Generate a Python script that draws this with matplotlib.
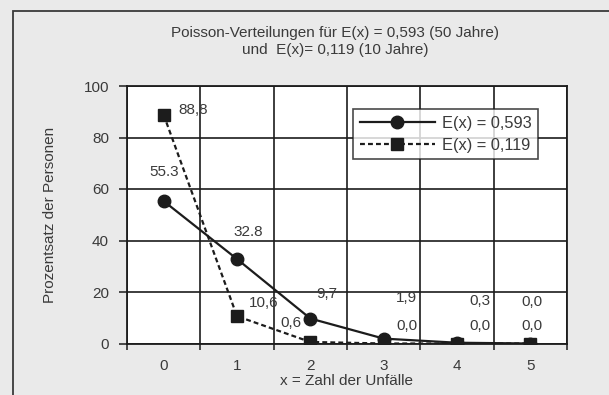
import matplotlib
matplotlib.use("Agg")
import matplotlib.pyplot as plt
from matplotlib.patches import Rectangle
from matplotlib.lines import Line2D

# Data: percentage of persons by number of accidents
accidents = [0, 1, 2, 3, 4, 5]
pct_593 = [55.3, 32.8, 9.7, 1.9, 0.3, 0.0]
pct_119 = [88.8, 10.6, 0.6, 0.0, 0.0, 0.0]
series_names = ["E(x) = 0,593", "E(x) = 0,119"]
y_ticks = [0, 20, 40, 60, 80, 100]

# decimal separator used in each data label
sep_593 = [".", ".", ",", ",", ",", ","]
sep_119 = [",", ",", ",", ",", ",", ","]

# label offsets (pixels) relative to the marker
off_593 = [(0, 29), (11, 27), (16, 25), (23, 41), (23, 42), (2, 42)]
off_119 = [(30, 5), (27, 13), (-19, 19), (23, 17), (23, 17), (2, 17)]

W, H = 609, 395
plt.rcParams["font.family"] = ["Liberation Sans", "DejaVu Sans"]
FS = 11
TXT = "#3a3a3a"
INK = "#1c1c1c"

fig = plt.figure(figsize=(W / 100, H / 100), dpi=100)
fig.patch.set_facecolor("#eaeaea")

# outer chart frame
fig.add_artist(Rectangle((13 / W, -0.1), 1.2, 1 - 11 / H + 0.1,
                         transform=fig.transFigure, fill=False,
                         edgecolor="#3a3a3a", linewidth=1.3))

left, right, top, bottom = 127, 567, 86, 343.5
ax = fig.add_axes([left / W, 1 - bottom / H, (right - left) / W, (bottom - top) / H])
ax.set_facecolor("white")
ax.set_xlim(-0.5, 5.5)
ax.set_ylim(0, 100)

ax.set_xticks(accidents)
ax.set_xticklabels([str(a) for a in accidents], fontsize=FS, color=TXT)
ax.set_xticks([a - 0.5 for a in accidents] + [5.5], minor=True)
ax.tick_params(axis="x", which="major", length=0, pad=11)
ax.tick_params(axis="x", which="minor", length=4, width=1.1, color=INK, direction="out")
ax.set_yticks(y_ticks)
ax.set_yticklabels([str(t) for t in y_ticks], fontsize=FS, color=TXT)
ax.tick_params(axis="y", length=6, width=1.1, color=INK, pad=7)

ax.grid(True, axis="y", which="major", color=INK, linewidth=1.2)
ax.grid(True, axis="x", which="minor", color=INK, linewidth=1.2)
ax.set_axisbelow(True)
for s in ax.spines.values():
    s.set_color(INK)
    s.set_linewidth(1.3)

ax.plot(accidents, pct_593, color=INK, linewidth=1.6, marker="o",
        markersize=9, markerfacecolor=INK, markeredgecolor=INK, zorder=4)
ax.plot(accidents, pct_119, color=INK, linewidth=1.6, linestyle=(0, (2.2, 1.4)),
        marker="s", markersize=8.5, markerfacecolor=INK, markeredgecolor=INK, zorder=4)

def label(vals, seps, offs):
    for x, v, sp, (dx, dy) in zip(accidents, vals, seps, offs):
        ax.annotate(f"{v:.1f}".replace(".", sp), xy=(x, v), xytext=(dx, dy),
                    textcoords="offset pixels", ha="center", va="center",
                    fontsize=FS, color=TXT, zorder=5, annotation_clip=False)

label(pct_593, sep_593, off_593)
label(pct_119, sep_119, off_119)

ax.set_xlabel("x = Zahl der Unfälle", fontsize=FS, color=TXT, labelpad=1)
fig.text(50 / W, 1 - 215 / H, "Prozentsatz der Personen", rotation=90,
         ha="center", va="center", fontsize=FS, color=TXT)

fig.text(335 / W, 1 - 33 / H, "Poisson-Verteilungen für E(x) = 0,593 (50 Jahre)",
         ha="center", va="center", fontsize=FS, color=TXT)
fig.text(335 / W, 1 - 50 / H, "und  E(x)= 0,119 (10 Jahre)",
         ha="center", va="center", fontsize=FS, color=TXT)

handles = [
    Line2D([], [], color=INK, linewidth=1.6, marker="o", markersize=9),
    Line2D([], [], color=INK, linewidth=1.6, linestyle=(0, (2.2, 1.4)),
           marker="s", markersize=8.5),
]
leg = ax.legend(handles, series_names, loc="upper left",
                bbox_to_anchor=(353 / W, 1 - 109 / H), bbox_transform=fig.transFigure,
                borderaxespad=0, fontsize=11.8, frameon=True, fancybox=False,
                edgecolor=INK, handlelength=4.6, handletextpad=0.4,
                labelspacing=0.45, borderpad=0.4)
leg.get_frame().set_linewidth(1.2)
for t in leg.get_texts():
    t.set_color(TXT)

fig.savefig("out.png", dpi=100, facecolor=fig.get_facecolor())
